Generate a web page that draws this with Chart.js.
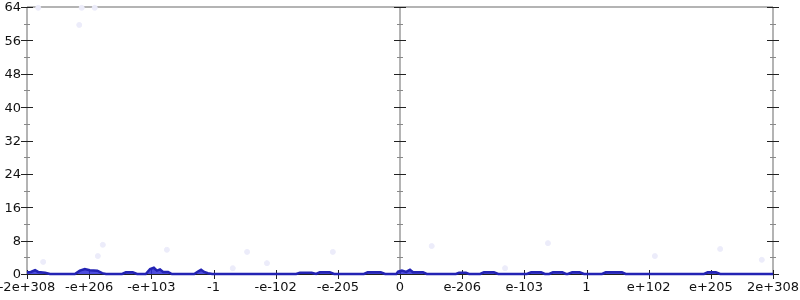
<!DOCTYPE html>
<html>
<head>
<meta charset="utf-8">
<script src="https://cdn.jsdelivr.net/npm/chart.js@4"></script>
<style>
    html, body { margin: 0; padding: 0; background: #fff; }
    #wrap { width: 800px; height: 300px; }
</style>
</head>
<body>
<div id="wrap"><canvas id="chart"></canvas></div>
<script>
// x axis position: 0..12, one unit per labelled tick
const xLabels = ['-2e+308', '-e+206', '-e+103', '-1', '-e-102', '-e-205', '0', 'e-206', 'e-103', '1', 'e+102', 'e+205', '2e+308'];
const yTicks = [0, 8, 16, 24, 32, 40, 48, 56, 64];

const histX = [0.00, 0.06, 0.13, 0.18, 0.29, 0.37, 0.77, 0.85, 0.93, 1.01, 1.13, 1.21, 1.27, 1.53, 1.59, 1.70, 1.77,
    1.91, 1.98, 2.04, 2.09, 2.14, 2.19, 2.27, 2.33, 2.69, 2.75, 2.80, 2.85, 2.91, 2.98, 4.33, 4.39, 4.58, 4.65,
    4.71, 4.87, 4.94, 5.42, 5.48, 5.69, 5.76, 5.94, 5.97, 6.03, 6.10, 6.16, 6.21, 6.37, 6.43, 6.90, 6.95, 7.06,
    7.11, 7.29, 7.35, 7.51, 7.58, 8.04, 8.11, 8.27, 8.33, 8.40, 8.46, 8.61, 8.67, 8.70, 8.77, 8.89, 8.96, 9.25,
    9.31, 9.57, 9.63, 10.89, 10.95, 11.08, 11.15, 12.00];
const histY = [0.4, 0.5, 0.9, 0.5, 0.3, 0, 0, 0.8, 1.2, 0.9, 0.8, 0.2, 0, 0, 0.4, 0.4, 0,
    0, 1.2, 1.5, 0.8, 1.1, 0.5, 0.5, 0, 0, 0.6, 1.0, 0.5, 0.2, 0, 0, 0.3, 0.3, 0,
    0.4, 0.4, 0, 0, 0.4, 0.4, 0, 0, 0.6, 0.8, 0.5, 1.0, 0.4, 0.4, 0, 0, 0.3, 0.3,
    0, 0, 0.4, 0.4, 0, 0, 0.4, 0.4, 0, 0, 0.4, 0.4, 0, 0, 0.4, 0.4, 0, 0,
    0.4, 0.4, 0, 0, 0.4, 0.4, 0, 0];

// faint background dots
const dotX = [0.18, 0.88, 1.09, 0.84, 0.26, 1.22, 1.14, 2.25, 3.31, 3.54, 3.86, 4.92, 6.51, 7.69, 8.38, 10.10, 11.15, 11.82];
const dotY = [63.8, 63.8, 63.8, 59.7, 2.9, 7.0, 4.3, 5.8, 1.4, 5.3, 2.6, 5.3, 6.7, 1.4, 7.4, 4.3, 6.0, 3.4];

const frameGrey = '#b4b4b4';
const tickDark = '#222';
const tickGrey = '#888';
const labelFont = '13px "DejaVu Sans"';

// axes frame, ticks and labels, placed with the chart's own scales
const framePlugin = {
    id: 'frame',
    beforeDatasetsDraw(chart) {
        const c = chart.ctx;
        const a = chart.chartArea;
        const sx = chart.scales.x;
        const sy = chart.scales.y;
        c.save();
        c.lineWidth = 2;
        c.strokeStyle = frameGrey;
        const xMid = sx.getPixelForValue(6);
        const verticals = [a.left, xMid, a.right];
        verticals.forEach(px => {
            c.beginPath();
            c.moveTo(px, a.top);
            c.lineTo(px, a.bottom);
            c.stroke();
        });
        c.beginPath();
        c.moveTo(a.left, a.top);
        c.lineTo(a.right, a.top);
        c.stroke();

        c.lineWidth = 1;
        verticals.forEach(px => {
            for (let v = 0; v <= 64; v += 4) {
                const py = Math.round(sy.getPixelForValue(v)) + 0.5;
                const major = v % 8 === 0;
                const len = major ? 6 : 3;
                c.strokeStyle = major ? tickDark : tickGrey;
                c.beginPath();
                c.moveTo(px - len, py);
                c.lineTo(px + len, py);
                c.stroke();
            }
        });

        c.strokeStyle = tickDark;
        c.beginPath();
        c.moveTo(a.left, a.bottom + 0.5);
        c.lineTo(a.right, a.bottom + 0.5);
        c.stroke();
        xLabels.forEach((_, i) => {
            const px = Math.round(sx.getPixelForValue(i)) + 0.5;
            c.beginPath();
            c.moveTo(px, a.bottom - 4);
            c.lineTo(px, a.bottom + 5);
            c.stroke();
        });

        c.fillStyle = '#111';
        c.font = labelFont;
        c.textAlign = 'right';
        c.textBaseline = 'middle';
        yTicks.forEach(v => {
            c.fillText(String(v), a.left - 6, sy.getPixelForValue(v) + 1);
        });
        c.textAlign = 'center';
        c.textBaseline = 'top';
        xLabels.forEach((lab, i) => {
            c.fillText(lab, sx.getPixelForValue(i), a.bottom + 7);
        });
        c.restore();
    }
};

const chartCtx = document.getElementById('chart').getContext('2d');
new Chart(chartCtx, {
    type: 'line',
    data: {
        datasets: [
            {
                type: 'scatter',
                data: dotX.map((x, i) => ({ x, y: dotY[i] })),
                backgroundColor: 'rgba(236, 236, 250, 1)',
                borderColor: 'rgba(236, 236, 250, 1)',
                pointRadius: 2.5,
                clip: false,
                order: 3
            },
            {
                data: histX.map((x, i) => ({ x, y: histY[i] })),
                borderColor: '#2323b4',
                borderWidth: 2.5,
                backgroundColor: 'rgba(45, 45, 215, 0.85)',
                fill: 'origin',
                pointRadius: 0,
                tension: 0,
                clip: false,
                order: 1
            }
        ]
    },
    options: {
        responsive: true,
        maintainAspectRatio: false,
        animation: false,
        layout: { padding: { top: 7, right: 27, left: 27, bottom: 26 } },
        plugins: {
            legend: { display: false },
            tooltip: { enabled: false }
        },
        scales: {
            x: { type: 'linear', display: false, min: 0, max: 12 },
            y: { display: false, min: 0, max: 64 }
        }
    },
    plugins: [framePlugin]
});
</script>
</body>
</html>
